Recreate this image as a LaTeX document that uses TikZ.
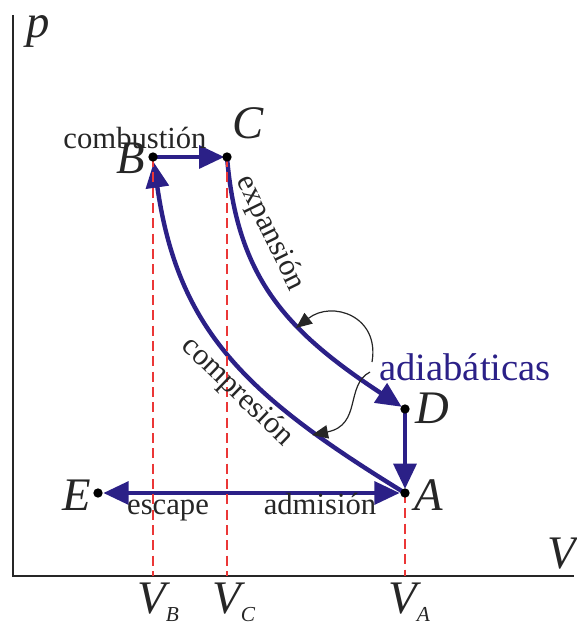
\documentclass[tikz,border=0pt]{standalone}
\usepackage{fontspec}
\setmainfont{Liberation Serif}
\usetikzlibrary{arrows.meta}
\definecolor{cycblue}{RGB}{43,32,135}
\definecolor{dashred}{RGB}{235,55,55}
\begin{document}
\begin{tikzpicture}[x=0.75pt,y=-0.75pt,
  bighead/.tip={Triangle[length=19pt,width=17pt]},
  cyc/.style={cycblue,line width=3.3pt,-bighead},
  guide/.style={dashred,line width=1.1pt,dash pattern=on 7.5pt off 4pt},
  axisline/.style={black!85,line width=2pt},
  dot/.style={circle,fill=black,inner sep=0pt,minimum size=7pt},
  ptlabel/.style={font=\fontsize{35}{40}\selectfont\itshape,inner sep=0pt,anchor=base,text=black!85},
  note/.style={font=\fontsize{23}{26}\selectfont,inner sep=0pt,text=black!85},
  pointer/.style={black!85,line width=0.9pt,-{Triangle[length=12pt,width=10pt]}}]
\useasboundingbox (0,0) rectangle (576,624);

% axes
\coordinate (O) at (13,576);
\coordinate (ytop) at (13,15);
\coordinate (xend) at (574,576);
\draw[axisline] (ytop) -- (O) -- (xend);
\node[ptlabel] (plab) at (38,38) {p};
\node[ptlabel] (Vlab) at (562,568) {V};

% cycle points
\coordinate (A) at (405,493);
\coordinate (B) at (153,157);
\coordinate (C) at (227,157);
\coordinate (D) at (405,409);
\coordinate (E) at (98,493);
\coordinate (VBa) at (153,576);
\coordinate (VCa) at (227,576);
\coordinate (VAa) at (405,576);

% cycle
\draw[cyc,shorten >=4pt] (A) .. controls (245,395) and (178,330) .. (B);
\draw[cyc,shorten >=2pt] (B) -- (C);
\draw[cyc,shorten >=3pt] (C) .. controls (237,277) and (285,330) .. (D);
\draw[cyc,shorten >=3pt] (D) -- (A);
\draw[cyc,bighead-bighead,shorten <=4pt,shorten >=4pt] (E) -- (A);

% guides
\draw[guide] (B) -- (VBa);
\draw[guide] (C) -- (VCa);
\draw[guide] (A) -- (VAa);

% dots
\foreach \p in {A,B,C,D,E} \node[dot] (dot\p) at (\p) {};

% point labels
\node[ptlabel] (labB) at (131,173) {B};
\node[ptlabel] (labC) at (248,138) {C};
\node[ptlabel] (labD) at (432,423) {D};
\node[ptlabel] (labA) at (429,510) {A};
\node[ptlabel] (labE) at (77,510) {E};

% axis tick labels
\node[ptlabel,anchor=base west] (VB) at (137,613) {V\raisebox{-6.5pt}{\fontsize{16}{18}\selectfont B}};
\node[ptlabel,anchor=base west] (VC) at (212,613) {V\raisebox{-6.5pt}{\fontsize{16}{18}\selectfont C}};
\node[ptlabel,anchor=base west] (VA) at (388,613) {V\raisebox{-6.5pt}{\fontsize{16}{18}\selectfont A}};

% process labels
\node[note,anchor=base] (comb) at (135,148) {combustión};
\node[note,rotate=-64] (expa) at (270,233) {expansión};
\node[note,rotate=-44] (comp) at (237,392) {compresión};
\node[note,anchor=base] (esc) at (168,514) {escape};
\node[note,anchor=base] (adm) at (320,514) {admisión};
\node[note,anchor=base,text=cycblue,font=\fontsize{29}{32}\selectfont] (adia) at (465,380) {adiabáticas};

% pointers
\coordinate (p1s) at (372,362);
\coordinate (p1e) at (296,328);
\coordinate (p2s) at (370,372);
\coordinate (p2e) at (312,435);
\draw[pointer] (p1s) .. controls (380,316) and (332,300) .. (p1e);
\draw[pointer] (p2s) .. controls (345,385) and (362,425) .. (p2e);
\end{tikzpicture}
\end{document}
